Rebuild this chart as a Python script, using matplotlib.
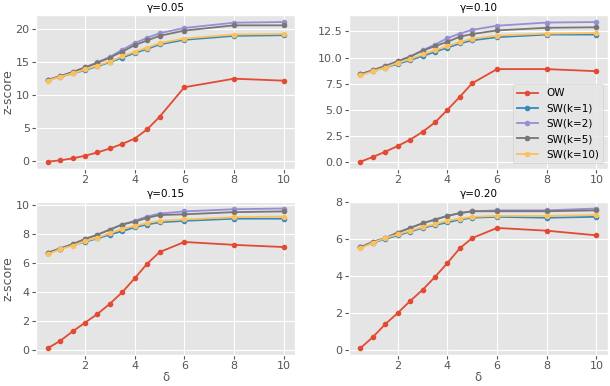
import numpy as np
import matplotlib
matplotlib.use('Agg')
import matplotlib.pyplot as plt
plt.style.use('ggplot')

delta = [0.5, 1, 1.5, 2, 2.5, 3, 3.5, 4, 4.5, 5, 6, 8, 10]
gammas = ['0.05', '0.10', '0.15', '0.20']
labels = ['OW', 'SW(k=1)', 'SW(k=2)', 'SW(k=5)', 'SW(k=10)']

# gamma = 0.05
ow_05 = [-0.1, 0.1, 0.4, 0.8, 1.3, 1.9, 2.6, 3.4, 4.8, 6.7, 11.2, 12.5, 12.2]
sw1_05 = [12.3, 12.8, 13.3, 13.8, 14.4, 15.0, 15.7, 16.4, 17.0, 17.7, 18.4, 19.0, 19.1]
sw2_05 = [12.3, 12.9, 13.5, 14.2, 15.0, 15.8, 16.9, 17.9, 18.7, 19.4, 20.2, 21.0, 21.1]
sw5_05 = [12.3, 12.9, 13.5, 14.2, 14.9, 15.7, 16.6, 17.6, 18.3, 19.0, 19.8, 20.6, 20.6]
sw10_05 = [12.2, 12.8, 13.3, 13.9, 14.5, 15.1, 15.9, 16.6, 17.2, 17.9, 18.6, 19.2, 19.3]

# gamma = 0.10
ow_10 = [0.05, 0.5, 1.0, 1.55, 2.15, 2.9, 3.8, 5.0, 6.25, 7.55, 8.9, 8.9, 8.7]
sw1_10 = [8.4, 8.75, 9.05, 9.4, 9.75, 10.15, 10.55, 10.95, 11.35, 11.65, 11.95, 12.2, 12.2]
sw2_10 = [8.4, 8.8, 9.2, 9.65, 10.1, 10.7, 11.25, 11.85, 12.3, 12.65, 13.05, 13.35, 13.4]
sw5_10 = [8.4, 8.8, 9.2, 9.65, 10.1, 10.65, 11.1, 11.5, 12.0, 12.25, 12.6, 12.85, 12.9]
sw10_10 = [8.3, 8.7, 9.05, 9.5, 9.85, 10.3, 10.7, 11.1, 11.5, 11.8, 12.1, 12.3, 12.35]

# gamma = 0.15
ow_15 = [0.15, 0.65, 1.3, 1.9, 2.5, 3.2, 4.0, 4.95, 5.95, 6.75, 7.45, 7.25, 7.1]
sw1_15 = [6.7, 7.0, 7.25, 7.45, 7.7, 7.95, 8.2, 8.45, 8.65, 8.8, 8.9, 9.05, 9.05]
sw2_15 = [6.7, 7.0, 7.3, 7.65, 7.95, 8.3, 8.65, 8.9, 9.2, 9.4, 9.55, 9.7, 9.75]
sw5_15 = [6.7, 7.0, 7.3, 7.65, 7.95, 8.3, 8.65, 8.85, 9.1, 9.3, 9.35, 9.5, 9.55]
sw10_15 = [6.6, 6.95, 7.2, 7.5, 7.75, 8.05, 8.35, 8.55, 8.75, 8.9, 9.0, 9.15, 9.2]

# gamma = 0.20
ow_20 = [0.1, 0.7, 1.4, 2.0, 2.65, 3.25, 3.95, 4.7, 5.5, 6.05, 6.6, 6.45, 6.2]
sw1_20 = [5.55, 5.8, 6.0, 6.2, 6.4, 6.6, 6.75, 6.9, 7.05, 7.15, 7.2, 7.15, 7.2]
sw2_20 = [5.55, 5.85, 6.05, 6.35, 6.6, 6.85, 7.05, 7.25, 7.4, 7.5, 7.55, 7.55, 7.65]
sw5_20 = [5.55, 5.85, 6.05, 6.35, 6.6, 6.85, 7.05, 7.25, 7.4, 7.5, 7.5, 7.5, 7.55]
sw10_20 = [5.5, 5.8, 6.05, 6.25, 6.45, 6.65, 6.8, 7.0, 7.1, 7.2, 7.25, 7.25, 7.3]

panels = [
    [ow_05, sw1_05, sw2_05, sw5_05, sw10_05],
    [ow_10, sw1_10, sw2_10, sw5_10, sw10_10],
    [ow_15, sw1_15, sw2_15, sw5_15, sw10_15],
    [ow_20, sw1_20, sw2_20, sw5_20, sw10_20],
]

fig, axes = plt.subplots(2, 2, figsize=(6.1, 3.86), dpi=100)
axes = axes.ravel()

for i, ax in enumerate(axes):
    for series, lab in zip(panels[i], labels):
        ax.plot(delta, series, marker='o', markersize=3, lw=1.3, label=lab)
    ax.set_title('γ=' + gammas[i], fontsize=7.5, pad=3)
    ax.tick_params(labelsize=8, pad=1.5, length=3)
    if i % 2 == 0:
        ax.set_ylabel('z-score', fontsize=9, labelpad=1)
    if i >= 2:
        ax.set_xlabel('δ', fontsize=8.5, labelpad=0)

axes[1].set_yticks(np.arange(0, 13, 2.5))
axes[1].legend(loc='lower right', fontsize=7.5, framealpha=0.8)

plt.subplots_adjust(left=0.059, right=0.997, top=0.961, bottom=0.08,
                    wspace=0.205, hspace=0.214)
plt.savefig('out.png')
